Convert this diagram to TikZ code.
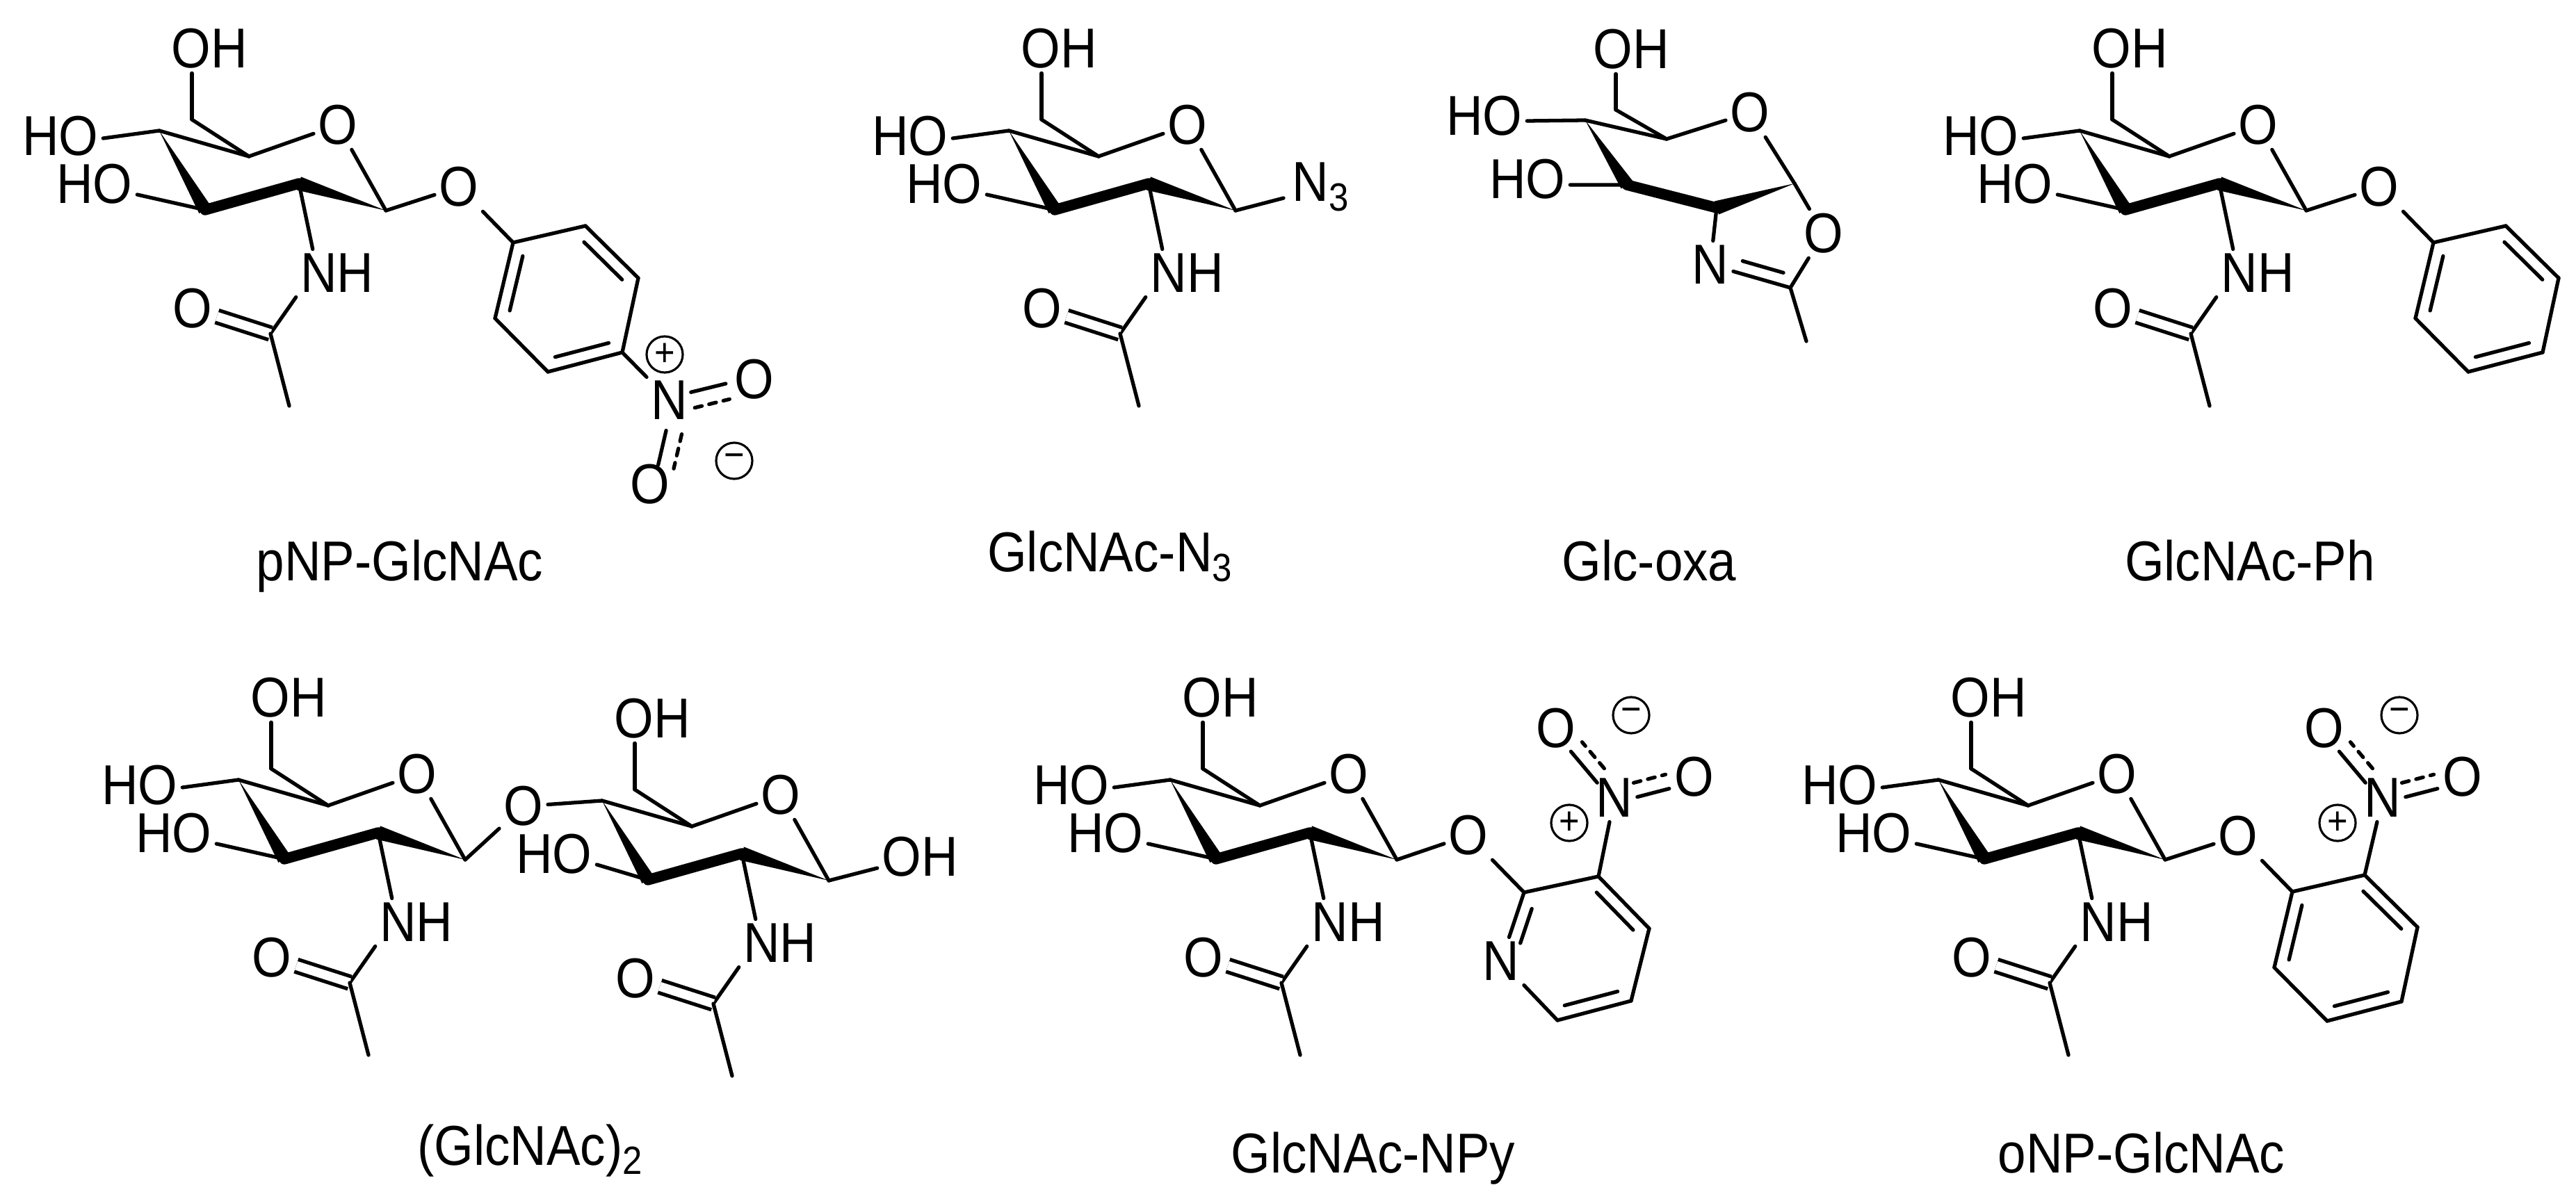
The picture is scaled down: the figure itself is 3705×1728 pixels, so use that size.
\documentclass[tikz,border=0pt]{standalone}
\usepackage{fontspec}
\setmainfont[FakeStretch=.9]{Liberation Sans}
\usetikzlibrary{calc}

% filled wedge, thin at #1
\newcommand{\wedgebond}[2]{\fill (#1) -- ($(#2)!.1cm!90:(#1)$) -- ($(#2)!.1cm!-90:(#1)$) -- cycle;}
% short line beside the bond #2-#4, #3 and #5 cut from the ends, #6 to the left of it
\newcommand{\parbond}[6][]{\draw[line width=1.5pt,line cap=round,#1] ($(#2)!#3!(#4)!#6!90:(#4)$) -- ($(#4)!#5!(#2)!#6!-90:(#2)$);}

\tikzset{
	every edge/.style={draw,line width=1.5pt,line cap=round},
	atom/.style={inner sep=.06cm,font=\fontsize{23}{27}\selectfont},
	molname/.style={anchor=base,inner sep=0pt,font=\fontsize{23}{27}\selectfont},
	charge/.style={draw,circle,line width=.9pt,minimum size=.52cm,inner sep=0pt,font=\fontsize{16}{16}\selectfont},
	dblbond/.style={double,double distance=.13cm,line cap=butt},
	thickbond/.style={line width=4.4pt,line cap=round},
	ho3x/.store in=\hothreex,
	ho3x=136,
	glcnac/.pic={
		\coordinate (c1) at (555,303);
		\coordinate (c2) at (430,264);
		\coordinate (c3) at (295,302);
		\coordinate (c4) at (229,188);
		\coordinate (c5) at (358,225);
		\coordinate (c6) at (276,172);
		\coordinate (c8) at (389,480);
		\coordinate (ch3) at (416,584);
		\wedgebond{c4}{c3}
		\wedgebond{c1}{c2}
		\draw[thickbond] (c3) -- (c2);
		\node[atom] (o5) at (486,180) {O}
		node[atom] (oh6) at (301,70) {OH}
		node[atom] (ho3) at (\hothreex,265) {HO}
		node[atom] (nh) at (485,393) {NH}
		node[atom] (o7) at (277,444) {O};
		\path (c4) edge (c5)
		(c6) edge (c5)
		(c6) edge (oh6.south -| c6)
		(c5) edge (o5)
		(c1) edge (o5)
		(c3) edge ([yshift=-.15cm]ho3.east)
		(c2) edge ([xshift=.24cm]nh.north west)
		(c8) edge (nh.south west)
		(c8) edge[dblbond] (o7)
		(c8) edge (ch3);
	},
	hofour/.pic={
		\node[atom] (ho4) at (87,196) {HO};
		\path (c4) edge ([yshift=-.03cm]ho4.east);
	},
	phenoxy/.pic={
		\coordinate (ar1) at (738,349);
		\coordinate (ar2) at (842,325);
		\coordinate (ar3) at (918,400);
		\coordinate (ar4) at (895,507);
		\coordinate (ar5) at (788,535);
		\coordinate (ar6) at (712,458);
		\node[atom] (o1) at (660,269) {O};
		\path (c1) edge (o1)
		(o1) edge (ar1)
		(ar1) edge (ar2) (ar2) edge (ar3) (ar3) edge (ar4)
		(ar4) edge (ar5) (ar5) edge (ar6) (ar6) edge (ar1);
		\parbond{ar2}{.14}{ar3}{.14}{-.18cm}
		\parbond{ar4}{.14}{ar5}{.14}{-.18cm}
		\parbond{ar6}{.14}{ar1}{.14}{-.18cm}
	},
	nitroup/.pic={
		\node[atom] (n) at (868,214) {N}
		node[atom] (oa) at (784,114) {O}
		node[atom] (ob) at (983,184) {O}
		node[charge] (plus) at (803,250) {+}
		node[charge] (minus) at (892,95) {−};
		\path (ar2) edge (n);
		\parbond{n}{.25}{oa}{.30}{.05cm}
		\parbond[dashed]{n}{.32}{oa}{.30}{-.16cm}
		\parbond[dashed]{n}{.27}{ob}{.33}{.14cm}
		\parbond{n}{.27}{ob}{.33}{-.07cm}
	}
}

\begin{document}
\begin{tikzpicture}[x=.01cm,y=-.01cm]
	\useasboundingbox (0,0) rectangle (3705,1728);

	% pNP-GlcNAc
	\pic (a-) at (0,0) {glcnac};
	\pic (a-) at (0,0) {hofour};
	\pic (a-) at (0,0) {phenoxy};
	\node[atom] (a-n) at (963,576) {N}
	node[atom] (a-oa) at (1085,546) {O}
	node[atom] (a-ob) at (935,697) {O}
	node[charge] (a-plus) at (956,510) {+}
	node[charge] (a-minus) at (1056,663) {−};
	\path (a-ar4) edge (a-n);
	\parbond{a-n}{.26}{a-oa}{.33}{.04cm}
	\parbond[dashed]{a-n}{.26}{a-oa}{.33}{-.19cm}
	\parbond{a-n}{.35}{a-ob}{.24}{.05cm}
	\parbond[dashed]{a-n}{.35}{a-ob}{.24}{.28cm}
	\node[molname] (a-name) at (575,836) {pNP-GlcNAc};

	% GlcNAc-N3
	\pic (b-) at (1222,0) {glcnac};
	\pic (b-) at (1222,0) {hofour};
	\node[atom,anchor=west,inner sep=0pt] (b-n3) at (1858,269) {N\textsubscript{3}};
	\path (b-c1) edge ([xshift=-.12cm,yshift=-.16cm]b-n3.west);
	\node[molname] (b-name) at (1597,823) {GlcNAc-N\textsubscript{3}};

	% Glc-oxa
	\coordinate (c-c1) at (2581,264);
	\coordinate (c-c2) at (2469,299);
	\coordinate (c-c3) at (2340,266);
	\coordinate (c-c4) at (2280,173);
	\coordinate (c-c5) at (2397,200);
	\coordinate (c-c6) at (2324,158);
	\coordinate (c-c8) at (2575,414);
	\coordinate (c-ch3) at (2598,491);
	\wedgebond{c-c4}{c-c3}
	\wedgebond{c-c1}{c-c2}
	\draw[thickbond] (c-c3) -- (c-c2);
	\node[atom] (c-o5) at (2517,162) {O}
	node[atom] (c-oh6) at (2346,71) {OH}
	node[atom] (c-ho4) at (2135,167) {HO}
	node[atom] (c-ho3) at (2197,258) {HO}
	node[atom] (c-n) at (2460,381) {N}
	node[atom] (c-o) at (2623,336) {O};
	\path (c-c4) edge (c-c5)
	(c-c6) edge (c-c5)
	(c-c6) edge (c-oh6.south -| c-c6)
	(c-c4) edge ([yshift=-.07cm]c-ho4.east)
	(c-c3) edge ([yshift=-.08cm]c-ho3.east)
	(c-c5) edge (c-o5)
	(c-c1) edge (c-o5)
	(c-c1) edge (c-o)
	(c-c2) edge (c-n)
	(c-c8) edge (c-n)
	(c-c8) edge (c-o)
	(c-c8) edge (c-ch3);
	\parbond{c-n}{.36}{c-c8}{.13}{.18cm}
	\node[molname] (c-name) at (2372,836) {Glc-oxa};

	% GlcNAc-Ph
	\pic (d-) at (2762,0) {glcnac};
	\pic (d-) at (2762,0) {hofour};
	\pic (d-) at (2762,0) {phenoxy};
	\node[molname] (d-name) at (3236,836) {GlcNAc-Ph};

	% (GlcNAc)2
	\pic (e-) at (114,934) {glcnac};
	\pic (e-) at (114,934) {hofour};
	\pic[ho3x=160] (f-) at (637,964) {glcnac};
	\node[atom] (e-o1) at (753,1160) {O}
	node[atom] (f-oh1) at (1323,1233) {OH};
	\path (e-c1) edge (e-o1)
	(e-o1) edge (f-c4)
	(f-c1) edge ([yshift=-.16cm]f-oh1.west);
	\node[molname] (e-name) at (763,1676) {(GlcNAc)\textsubscript{2}};

	% GlcNAc-NPy
	\pic (g-) at (1454,934) {glcnac};
	\pic (g-) at (1454,934) {hofour};
	\coordinate (g-ar1) at (2192,1284);
	\coordinate (g-ar2) at (2299,1261);
	\coordinate (g-ar3) at (2372,1336);
	\coordinate (g-ar4) at (2346,1440);
	\coordinate (g-ar5) at (2240,1468);
	\node[atom] (g-ar6) at (2159,1383) {N}
	node[atom] (g-o1) at (2112,1202) {O};
	\path (g-c1) edge (g-o1)
	(g-o1) edge (g-ar1)
	(g-ar1) edge (g-ar2) (g-ar2) edge (g-ar3) (g-ar3) edge (g-ar4)
	(g-ar4) edge (g-ar5) (g-ar5) edge (g-ar6) (g-ar6) edge (g-ar1);
	\parbond{g-ar2}{.14}{g-ar3}{.14}{-.18cm}
	\parbond{g-ar4}{.14}{g-ar5}{.14}{-.18cm}
	\parbond{g-ar6}{.32}{g-ar1}{.18}{-.18cm}
	\pic (g-) at (1454,934) {nitroup};
	\node[molname] (g-name) at (1975,1687) {GlcNAc-NPy};

	% oNP-GlcNAc
	\pic (h-) at (2559,934) {glcnac};
	\pic (h-) at (2559,934) {hofour};
	\pic (h-) at (2559,934) {phenoxy};
	\pic (h-) at (2559,934) {nitroup};
	\node[molname] (h-name) at (3080,1687) {oNP-GlcNAc};
\end{tikzpicture}
\end{document}
